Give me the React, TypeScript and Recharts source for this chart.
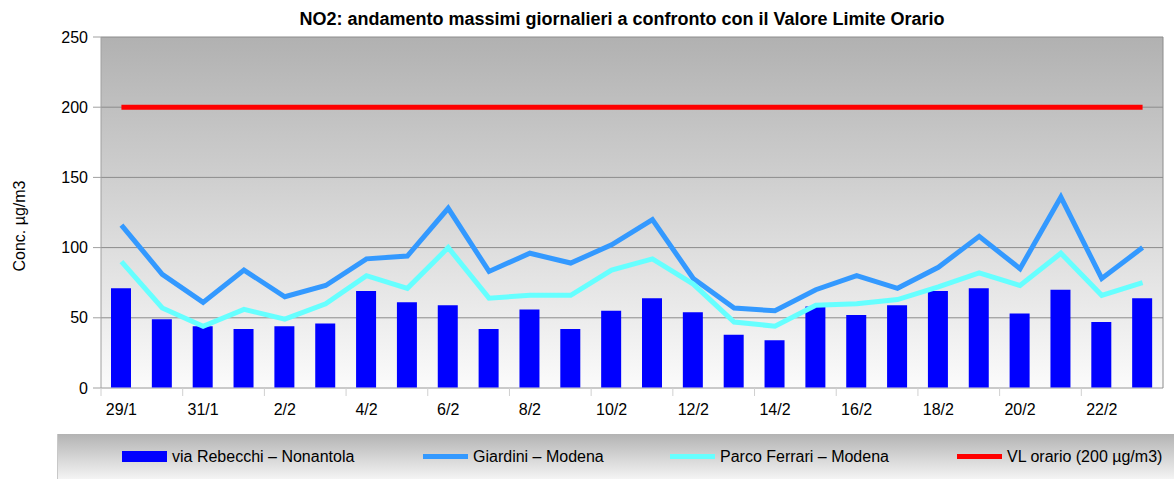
import { Bar, CartesianGrid, ComposedChart, Line, XAxis, YAxis } from "recharts";

const giorni = [
  "29/1", "30/1", "31/1", "1/2", "2/2", "3/2", "4/2", "5/2", "6/2", "7/2", "8/2", "9/2", "10/2",
  "11/2", "12/2", "13/2", "14/2", "15/2", "16/2", "17/2", "18/2", "19/2", "20/2", "21/2", "22/2", "23/2",
];
const rebecchi = [71, 49, 44, 42, 44, 46, 69, 61, 59, 42, 56, 42, 55, 64, 54, 38, 34, 58, 52, 59, 69, 71, 53, 70, 47, 64];
const giardini = [116, 81, 61, 84, 65, 73, 92, 94, 128, 83, 96, 89, 102, 120, 78, 57, 55, 70, 80, 71, 86, 108, 85, 136, 78, 100];
const ferrari = [90, 57, 44, 56, 49, 60, 80, 71, 100, 64, 66, 66, 84, 92, 74, 47, 44, 59, 60, 63, 72, 82, 73, 96, 66, 75];
const limite = [200, 200, 200, 200, 200, 200, 200, 200, 200, 200, 200, 200, 200, 200, 200, 200, 200, 200, 200, 200, 200, 200, 200, 200, 200, 200];
const yTicks = [0, 50, 100, 150, 200, 250];

const dati = giorni.map((giorno, i) => ({
  giorno,
  rebecchi: rebecchi[i],
  giardini: giardini[i],
  ferrari: ferrari[i],
  limite: limite[i],
}));

const FONT = "'Liberation Sans', Arial, sans-serif";
const BANDA = (1163 - 101) / 26;

function TickGiorno({ x, y, payload }: any) {
  const bx = x - BANDA / 2;
  return (
    <g>
      <line x1={bx} x2={bx} y1={y - 16} y2={y - 8} stroke="#d0d0d0" />
      <text x={x} y={y} dy="0.71em" textAnchor="middle" fontSize={16} fill="#000" fontFamily={FONT}>
        {payload.value}
      </text>
    </g>
  );
}

function EtichettaY() {
  return (
    <text
      x={25}
      y={226}
      transform="rotate(-90 25 226)"
      textAnchor="middle"
      fontSize={16}
      fill="#000"
      fontFamily={FONT}
    >
      Conc. µg/m3
    </text>
  );
}

const voci = [
  { nome: "via Rebecchi – Nonantola", colore: "#0000ff", tipo: "bar", x: 121 },
  { nome: "Giardini – Modena", colore: "#3399ff", tipo: "line", x: 422 },
  { nome: "Parco Ferrari – Modena", colore: "#66ffff", tipo: "line", x: 669 },
  { nome: "VL orario (200 µg/m3)", colore: "#ff0000", tipo: "line", x: 956 },
];

export default function App() {
  return (
    <div style={{ position: "absolute", left: 0, top: 0, width: 1174, height: 479, background: "#fff", fontFamily: FONT }}>
      <div
        style={{
          position: "absolute",
          left: 0,
          width: 1244,
          top: 9,
          textAlign: "center",
          fontWeight: "bold",
          fontSize: 18,
          color: "#000",
        }}
      >
        NO2: andamento massimi giornalieri a confronto con il Valore Limite Orario
      </div>
      <div
        style={{
          position: "absolute",
          left: 57,
          top: 434,
          width: 1117,
          height: 45,
          background: "linear-gradient(#b3b3b3, #f4f4f4)",
          borderLeft: "1px solid #c8c8c8",
        }}
      >
        {voci.map((v) => (
          <div key={v.nome} style={{ position: "absolute", left: v.x - 57, top: 0, height: 45, display: "flex", alignItems: "center" }}>
            <div
              style={{
                width: 45,
                height: v.tipo === "bar" ? 11 : 5,
                background: v.colore,
                marginRight: 5,
              }}
            />
            <span style={{ fontSize: 16, color: "#000", whiteSpace: "nowrap" }}>{v.nome}</span>
          </div>
        ))}
      </div>
      <ComposedChart
        width={1174}
        height={479}
        data={dati}
        margin={{ top: 37, right: 10, bottom: 61, left: 0 }}
        style={{ position: "absolute", left: 0, top: 0 }}
      >
        <defs>
          <linearGradient id="sfondo" x1="0" y1="0" x2="0" y2="1">
            <stop offset="0%" stopColor="#b1b1b1" />
            <stop offset="100%" stopColor="#fbfbfb" />
          </linearGradient>
        </defs>
        <CartesianGrid vertical={false} stroke="#8c8c8c" fill="url(#sfondo)" fillOpacity={1} />
        <XAxis
          dataKey="giorno"
          interval={1}
          tick={<TickGiorno />}
          tickLine={false}
          tickSize={8}
          tickMargin={8}
          axisLine={{ stroke: "#d0d0d0" }}
        />
        <YAxis
          domain={[0, 250]}
          ticks={yTicks}
          width={101}
          tick={{ fontSize: 16, fill: "#000", fontFamily: FONT }}
          tickSize={8}
          tickMargin={5}
          tickLine={{ stroke: "#a0a0a0" }}
          axisLine={{ stroke: "#a0a0a0" }}
          label={<EtichettaY />}
        />
        <YAxis
          yAxisId="bordo"
          orientation="right"
          width={1}
          tick={false}
          tickLine={false}
          axisLine={{ stroke: "#8c8c8c" }}
          domain={[0, 250]}
        />
        <Bar dataKey="rebecchi" fill="#0000ff" barSize={20} isAnimationActive={false} />
        <Line dataKey="giardini" stroke="#3399ff" strokeWidth={5} dot={false} isAnimationActive={false} strokeLinejoin="miter" />
        <Line dataKey="ferrari" stroke="#66ffff" strokeWidth={5} dot={false} isAnimationActive={false} strokeLinejoin="miter" />
        <Line dataKey="limite" stroke="#ff0000" strokeWidth={5} dot={false} isAnimationActive={false} />
      </ComposedChart>
    </div>
  );
}
